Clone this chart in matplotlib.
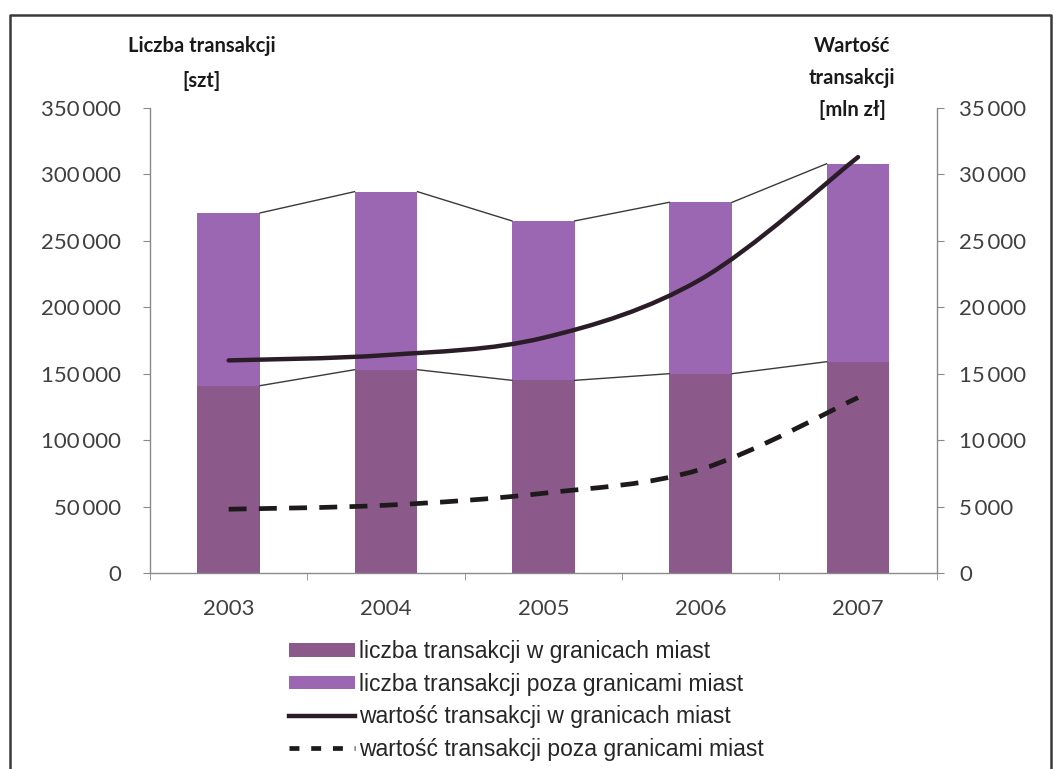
import matplotlib
matplotlib.use("Agg")
import matplotlib.pyplot as plt
from matplotlib.path import Path
from matplotlib.patches import PathPatch, Patch
from matplotlib.lines import Line2D
from matplotlib.ticker import FuncFormatter
import numpy as np

# --- data -------------------------------------------------------------
years = ["2003", "2004", "2005", "2006", "2007"]
count_in_city = [141000, 153000, 145000, 150000, 159000]      # szt
count_total = [271000, 287000, 265000, 279000, 308000]        # szt
value_in_city = [16000, 16400, 17700, 22100, 31300]           # mln zł
value_outside = [4800, 5100, 6000, 7800, 13200]               # mln zł

count_outside = [t - c for t, c in zip(count_total, count_in_city)]

legend_labels = [
    "liczba transakcji w granicach miast",
    "liczba transakcji poza granicami miast",
    "wartość transakcji w granicach miast",
    "wartość transakcji poza granicami miast",
]

# --- style ------------------------------------------------------------
col_in = "#8c5a8a"
col_out = "#9b67b3"
axis_col = "#8a8a8a"
text_col = "#404040"
label_font = ["Lato", "DejaVu Sans"]
legend_font = ["Liberation Sans", "DejaVu Sans"]

fig = plt.figure(figsize=(10.54, 7.69), dpi=100)
ax = fig.add_axes([0.1423, 0.2549, 0.8887 - 0.1423, 0.8596 - 0.2549])
ax2 = ax.twinx()

x = np.arange(len(years))
bw = 0.40

ax.bar(x, count_in_city, width=bw, color=col_in, zorder=2)
ax.bar(x, count_outside, width=bw, bottom=count_in_city, color=col_out, zorder=2)

# series lines joining the bar segments
for series in (count_in_city, count_total):
    for i in range(len(x) - 1):
        ax.plot([x[i] + bw / 2, x[i + 1] - bw / 2], [series[i], series[i + 1]],
                color="#3a3a3a", lw=1.0, zorder=3)

ax.set_xlim(-0.5, len(years) - 0.5)
ax.set_ylim(0, 350000)
ax2.set_ylim(0, 35000)


def smooth_path(xs, ys):
    """Cubic Bezier path through the points (spreadsheet-style smoothing)."""
    pts = np.column_stack([xs, ys]).astype(float)
    n = len(pts)
    verts = [pts[0]]
    codes = [Path.MOVETO]
    for i in range(n - 1):
        p0 = pts[i - 1] if i > 0 else pts[i]
        p1 = pts[i]
        p2 = pts[i + 1]
        p3 = pts[i + 2] if i + 2 < n else pts[i + 1]
        c1 = p1 + (p2 - p0) / 6.0
        c2 = p2 - (p3 - p1) / 6.0
        verts += [c1, c2, p2]
        codes += [Path.CURVE4] * 3
    return Path(verts, codes)


ax2.add_patch(PathPatch(smooth_path(x, value_in_city), fill=False,
                        edgecolor="#2b1d28", lw=3.2, capstyle="round", zorder=5))
ax2.add_patch(PathPatch(smooth_path(x, value_outside), fill=False,
                        edgecolor="#1e1a1c", lw=3.4, linestyle=(0, (3.8, 2.6)),
                        capstyle="butt", zorder=5))

# --- axes ---------------------------------------------------------------
thousands = FuncFormatter(lambda v, p: f"{int(v):,}".replace(",", "\u2009"))
ax.set_yticks(np.arange(0, 350001, 50000))
ax2.set_yticks(np.arange(0, 35001, 5000))
ax.yaxis.set_major_formatter(thousands)
ax2.yaxis.set_major_formatter(thousands)

ax.set_xticks(x)
ax.set_xticklabels(years)
ax.set_xticks(np.arange(-0.5, len(years) + 0.5, 1.0), minor=True)
ax.tick_params(axis="x", which="major", length=0, pad=19)
ax.tick_params(axis="x", which="minor", length=5, color=axis_col, direction="out")
ax.tick_params(axis="y", length=5, color=axis_col, pad=16)
ax2.tick_params(axis="y", length=5, color=axis_col, pad=11)

for a in (ax, ax2):
    for lbl in a.get_yticklabels() + a.get_xticklabels():
        lbl.set_family(label_font)
        lbl.set_fontsize(16)
        lbl.set_color(text_col)
    a.spines["top"].set_visible(False)
    for side in ("left", "right", "bottom"):
        a.spines[side].set_color(axis_col)
        a.spines[side].set_linewidth(1.0)
ax.spines["right"].set_visible(False)
ax2.spines["left"].set_visible(False)
ax2.spines["bottom"].set_visible(False)

# axis titles
title_kw = dict(ha="center", va="center", family=label_font, fontsize=14.5,
                fontweight="bold", color="#1a1a1a")
fig.text(202 / 1054, 1 - 46 / 769, "Liczba transakcji", **title_kw)
fig.text(202 / 1054, 1 - 81 / 769, "[szt]", **title_kw)
fig.text(852 / 1054, 1 - 46 / 769, "Wartość", **title_kw)
fig.text(852 / 1054, 1 - 78 / 769, "transakcji", **title_kw)
fig.text(852 / 1054, 1 - 110 / 769, "[mln zł]", **title_kw)

# --- legend -------------------------------------------------------------
handles = [
    Patch(facecolor=col_in, edgecolor="none"),
    Patch(facecolor=col_out, edgecolor="none"),
    Line2D([], [], color="#2b1d28", lw=3.2),
    Line2D([], [], color="#1e1a1c", lw=3.4, linestyle=(0, (2.1, 2.5))),
]
leg = fig.legend(handles, legend_labels, loc="upper left",
                 bbox_to_anchor=(289 / 1054, 1 - 640 / 769),
                 frameon=False, handlelength=2.9, handleheight=0.55,
                 handletextpad=0.15, labelspacing=0.42, borderpad=0,
                 borderaxespad=0,
                 prop={"family": legend_font, "size": 16.5})
for t in leg.get_texts():
    t.set_color("#262626")

# outer frame
frame = Line2D([10 / 1054, 10 / 1054, 1051 / 1054, 1051 / 1054],
               [0, 1 - 15 / 769, 1 - 15 / 769, 0],
               transform=fig.transFigure, color="#3a3a3a", lw=1.8)
fig.add_artist(frame)

fig.savefig("out.png", dpi=100, facecolor="white")
